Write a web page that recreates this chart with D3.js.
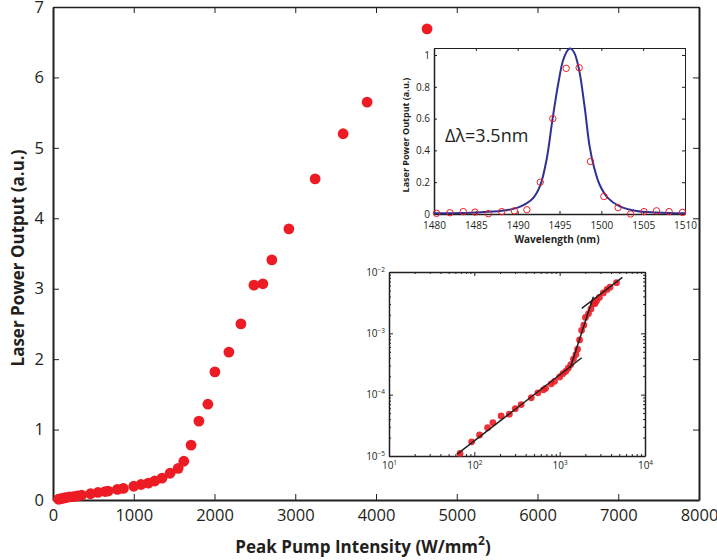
<!DOCTYPE html>
<html>
<head>
<meta charset="utf-8">
<script src="https://cdn.jsdelivr.net/npm/d3@7"></script>
<style>
  body { margin: 0; background: #fff; }
  svg { display: block; font-family: "Open Sans", sans-serif; }
</style>
</head>
<body>
<div id="chart"></div>
<script>
// ---- data ----
// main plot: pump intensity (W/mm^2) vs laser output (a.u.)
const pumpIntensity = [68, 93, 115, 143, 165, 206, 257, 302, 354, 465, 556, 645, 684, 797, 871, 1000,
  1090, 1180, 1260, 1350, 1450, 1550, 1620, 1710, 1807, 1918, 2005, 2178, 2327, 2488, 2599, 2710,
  2921, 3246, 3593, 3890, 4632];
const laserPower = [0.011, 0.017, 0.022, 0.029, 0.035, 0.045, 0.048, 0.059, 0.069, 0.089, 0.107, 0.12,
  0.127, 0.15, 0.165, 0.195, 0.22, 0.24, 0.27, 0.31, 0.38, 0.45, 0.55, 0.78, 1.12, 1.36, 1.82, 2.1,
  2.5, 3.05, 3.07, 3.41, 3.85, 4.56, 5.2, 5.65, 6.69];
const xTicks = [0, 1000, 2000, 3000, 4000, 5000, 6000, 7000, 8000];
const yTicks = [0, 1, 2, 3, 4, 5, 6, 7];

// spectrum inset: measured points and fitted curve
const specWavelength = [1480.3, 1481.9, 1483.5, 1484.9, 1486.5, 1488.1, 1489.6, 1491.1, 1492.7, 1494.2,
  1495.8, 1497.35, 1498.7, 1500.3, 1502.0, 1503.5, 1505.1, 1506.6, 1508.1, 1509.7];
const specPower = [0.004, 0.008, 0.015, 0.012, 0.002, 0.015, 0.02, 0.027, 0.2, 0.6,
  0.916, 0.92, 0.33, 0.11, 0.04, 0.0, 0.015, 0.02, 0.015, 0.01];
const fitWavelength = [1480, 1485, 1488.1, 1490, 1491, 1491.85, 1492.7, 1493.45, 1494.15, 1494.85,
  1495.45, 1496.05, 1496.35, 1496.8, 1497.35, 1498.0, 1498.6, 1499.1, 1499.8, 1500.8, 1502.2,
  1504.2, 1506.6, 1510];
const fitPower = [0.004, 0.01, 0.02, 0.04, 0.065, 0.1, 0.18, 0.34, 0.59, 0.82,
  0.97, 1.035, 1.04, 1.01, 0.905, 0.675, 0.425, 0.3, 0.184, 0.1, 0.048,
  0.019, 0.01, 0.004];
const specXTicks = [1480, 1485, 1490, 1495, 1500, 1505, 1510];
const specYTicks = [0, 0.2, 0.4, 0.6, 0.8, 1];

// log-log inset: same data, output scale factor, and three fitted segments
const logPowerFactor = 1e-3;
const fitSegments = [
  [[63, 1.07e-5], [1816, 4.0e-4]],
  [[1324, 2.69e-4], [2483, 3.95e-3]],
  [[1816, 2.56e-3], [5433, 8.2e-3]]
];

const ink = '#231f20';
const red = '#ed1c24';
const navy = '#2e3192';

const svg = d3.select('#chart')
  .append('svg')
  .attr('width', 717)
  .attr('height', 560);

// style an axis group: text font and line colours
function styleAxis(g, fontSize, domainWidth) {
  g.attr('font-family', null).attr('font-size', fontSize);
  g.select('.domain').attr('stroke', ink).attr('stroke-width', domainWidth);
  g.selectAll('.tick line').attr('stroke', ink).attr('stroke-width', 1);
  g.selectAll('.tick text').attr('fill', ink);
}

// ---- main plot ----
const x = d3.scaleLinear().domain([0, 8000]).range([53, 699]);
const y = d3.scaleLinear().domain([0, 7]).range([500, 7]);

svg.append('g')
  .attr('transform', 'translate(0,500)')
  .call(d3.axisBottom(x).tickValues(xTicks).tickFormat(d3.format('d')).tickSizeInner(-6).tickSizeOuter(0).tickPadding(9))
  .call(g => styleAxis(g, 16.5, 2));
svg.append('g')
  .attr('transform', 'translate(0,7)')
  .call(d3.axisTop(x).tickValues(xTicks).tickFormat('').tickSizeInner(-6).tickSizeOuter(0))
  .call(g => styleAxis(g, 16.5, 1.5));
svg.append('g')
  .attr('transform', 'translate(53,0)')
  .call(d3.axisLeft(y).tickValues(yTicks).tickFormat(d3.format('d')).tickSizeInner(-6).tickSizeOuter(0).tickPadding(9))
  .call(g => styleAxis(g, 16.5, 2));
svg.append('g')
  .attr('transform', 'translate(699,0)')
  .call(d3.axisRight(y).tickValues(yTicks).tickFormat('').tickSizeInner(-6).tickSizeOuter(0))
  .call(g => styleAxis(g, 16.5, 2));

svg.append('g')
  .selectAll('circle')
  .data(d3.zip(pumpIntensity, laserPower))
  .join('circle')
  .attr('cx', d => x(d[0]))
  .attr('cy', d => y(d[1]))
  .attr('r', 5.4)
  .attr('fill', red);

// axis titles
const xTitle = svg.append('text')
  .attr('x', 363)
  .attr('y', 553)
  .attr('text-anchor', 'middle')
  .attr('font-size', 17)
  .attr('font-weight', 'bold')
  .attr('fill', ink);
xTitle.append('tspan').text('Peak Pump Intensity (W/mm');
xTitle.append('tspan').attr('dy', -8).attr('font-size', 12).text('2');
xTitle.append('tspan').attr('dy', 8).text(')');

svg.append('text')
  .attr('transform', 'translate(24,258) rotate(-90)')
  .attr('text-anchor', 'middle')
  .attr('font-size', 17)
  .attr('font-weight', 'bold')
  .attr('fill', ink)
  .text('Laser Power Output (a.u.)');

// ---- spectrum inset ----
const sx = d3.scaleLinear().domain([1480, 1510]).range([434, 685]);
const sy = d3.scaleLinear().domain([0, 1.044]).range([214, 48]);
const spec = svg.append('g');

spec.append('rect')
  .attr('x', 434).attr('y', 48).attr('width', 251).attr('height', 166)
  .attr('fill', '#fff');

spec.append('g')
  .attr('transform', 'translate(0,214)')
  .call(d3.axisBottom(sx).tickValues(specXTicks).tickFormat(d3.format('d')).tickSizeInner(-3).tickSizeOuter(0).tickPadding(8))
  .call(g => styleAxis(g, 10, 1.5));
spec.append('g')
  .attr('transform', 'translate(0,48)')
  .call(d3.axisTop(sx).tickValues(specXTicks).tickFormat('').tickSizeInner(-3).tickSizeOuter(0))
  .call(g => styleAxis(g, 10, 1));
spec.append('g')
  .attr('transform', 'translate(434,0)')
  .call(d3.axisLeft(sy).tickValues(specYTicks).tickFormat(d => String(+d.toFixed(1))).tickSizeInner(-3).tickSizeOuter(0).tickPadding(4))
  .call(g => styleAxis(g, 10, 1.5));
spec.append('g')
  .attr('transform', 'translate(685,0)')
  .call(d3.axisRight(sy).tickValues(specYTicks).tickFormat('').tickSizeInner(-3).tickSizeOuter(0))
  .call(g => styleAxis(g, 10, 1));

const fitLine = d3.line()
  .x(d => sx(d[0]))
  .y(d => sy(d[1]))
  .curve(d3.curveCatmullRom);

spec.append('path')
  .datum(d3.zip(fitWavelength, fitPower))
  .attr('d', fitLine)
  .attr('fill', 'none')
  .attr('stroke', navy)
  .attr('stroke-width', 2);

spec.append('g')
  .selectAll('circle')
  .data(d3.zip(specWavelength, specPower))
  .join('circle')
  .attr('cx', d => sx(d[0]))
  .attr('cy', d => sy(d[1]))
  .attr('r', 3.2)
  .attr('fill', 'none')
  .attr('stroke', red)
  .attr('stroke-width', 1);

spec.append('text')
  .attr('x', 445)
  .attr('y', 142)
  .attr('font-size', 18)
  .attr('fill', ink)
  .text('Δλ=3.5nm');

spec.append('text')
  .attr('x', 557)
  .attr('y', 243)
  .attr('text-anchor', 'middle')
  .attr('font-size', 10)
  .attr('font-weight', 'bold')
  .attr('fill', ink)
  .text('Wavelength (nm)');

spec.append('text')
  .attr('transform', 'translate(409,135) rotate(-90)')
  .attr('text-anchor', 'middle')
  .attr('font-size', 9)
  .attr('font-weight', 'bold')
  .attr('fill', ink)
  .text('Laser Power Output (a.u.)');

// ---- log-log inset ----
const lx = d3.scaleLog().domain([10, 1e4]).range([389, 645]);
const ly = d3.scaleLog().domain([1e-5, 1e-2]).range([456, 272]);
const logg = svg.append('g');

logg.append('rect')
  .attr('x', 389).attr('y', 272).attr('width', 256).attr('height', 184)
  .attr('fill', '#fff');

const isDecade = d => Math.abs(Math.log10(d) - Math.round(Math.log10(d))) < 1e-6;

// log ticks: long at decades, short for the minor ones; decade labels as 10^n
function logTicks(g, labelled) {
  g.selectAll('.tick').each(function(d) {
    const t = d3.select(this);
    const major = isDecade(d);
    const line = t.select('line');
    ['x2', 'y2'].forEach(k => {
      const v = line.attr(k);
      if (v !== null && +v !== 0 && !major) line.attr(k, +v / 2);
    });
    const txt = t.select('text');
    txt.text(null);
    if (labelled && major) {
      txt.append('tspan').text('10');
      txt.append('tspan')
        .attr('dy', '-0.6em')
        .attr('font-size', 6.5)
        .text(Math.round(Math.log10(d)).toString().replace('-', '\u2212'));
    }
  });
}

logg.append('g')
  .attr('transform', 'translate(0,456)')
  .call(d3.axisBottom(lx).tickSizeInner(-4).tickSizeOuter(0).tickPadding(6))
  .call(g => styleAxis(g, 10, 1.5))
  .call(g => logTicks(g, true));
logg.append('g')
  .attr('transform', 'translate(0,272)')
  .call(d3.axisTop(lx).tickSizeInner(-4).tickSizeOuter(0))
  .call(g => styleAxis(g, 10, 1.5))
  .call(g => logTicks(g, false));
logg.append('g')
  .attr('transform', 'translate(389,0)')
  .call(d3.axisLeft(ly).tickSizeInner(-4).tickSizeOuter(0).tickPadding(4))
  .call(g => styleAxis(g, 10, 1.5))
  .call(g => logTicks(g, true));
logg.append('g')
  .attr('transform', 'translate(645,0)')
  .call(d3.axisRight(ly).tickSizeInner(-4).tickSizeOuter(0))
  .call(g => styleAxis(g, 10, 1.5))
  .call(g => logTicks(g, false));

logg.append('g')
  .selectAll('circle')
  .data(d3.zip(pumpIntensity, laserPower))
  .join('circle')
  .attr('cx', d => lx(d[0]))
  .attr('cy', d => ly(d[1] * logPowerFactor))
  .attr('r', 3.4)
  .attr('fill', red)
  .attr('fill-opacity', 0.9);

logg.append('g')
  .selectAll('line')
  .data(fitSegments)
  .join('line')
  .attr('x1', d => lx(d[0][0]))
  .attr('y1', d => ly(d[0][1]))
  .attr('x2', d => lx(d[1][0]))
  .attr('y2', d => ly(d[1][1]))
  .attr('stroke', ink)
  .attr('stroke-width', 1.5);
</script>
</body>
</html>
